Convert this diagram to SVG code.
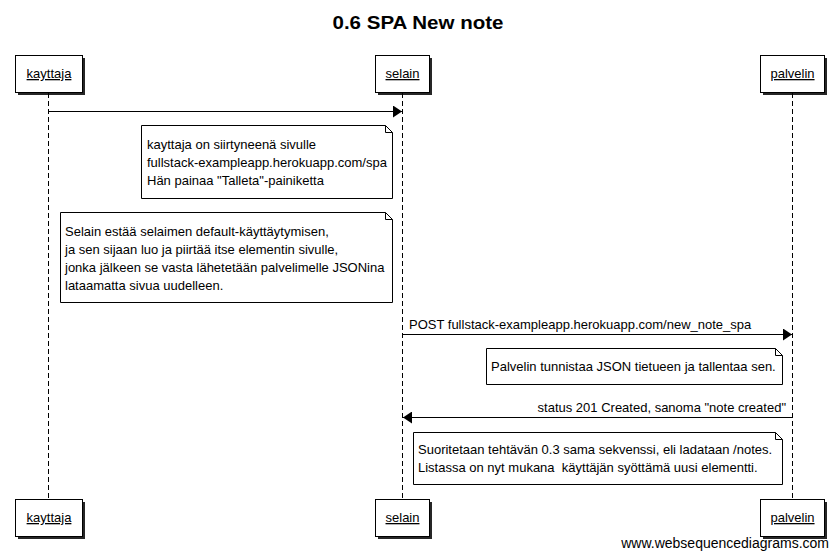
<svg xmlns="http://www.w3.org/2000/svg" width="838" height="560" viewBox="0 0 838 560">
<defs>
<style>
text{font-family:"Liberation Sans",Arial,sans-serif;font-size:13px;fill:#000}
.title{font-size:18px;font-weight:bold}
.plabel{text-decoration:underline}
.box{fill:#fff;stroke:#000;stroke-width:1}
.shadow{fill:#000;opacity:0.85}
.life{stroke:#000;stroke-width:1;stroke-dasharray:5,3;fill:none}
.msg{stroke:#000;stroke-width:1;fill:none}
.note{fill:#fff;stroke:#000;stroke-width:1}
.fold{fill:none;stroke:#000;stroke-width:1}
.foot{font-size:14px}
</style>
<marker id="ah" markerWidth="10" markerHeight="12" refX="9" refY="6" orient="auto" markerUnits="userSpaceOnUse">
<path d="M0,0 L9,6 L0,12 Z" fill="#000"/>
</marker>
</defs>
<rect width="838" height="560" fill="#fff"/>
<text class="title" x="418" y="29" text-anchor="middle" textLength="171" lengthAdjust="spacingAndGlyphs">0.6 SPA New note</text>

<g id="lifelines">
<line class="life" x1="48.5" y1="93" x2="48.5" y2="499"/>
<line class="life" x1="402.5" y1="93" x2="402.5" y2="499"/>
<line class="life" x1="792.5" y1="93" x2="792.5" y2="499"/>
</g>

<g id="kayttaja">
<rect class="shadow" x="18" y="58" width="67" height="37"/>
<rect class="box" x="15.5" y="55.5" width="67" height="37"/>
<text class="plabel" x="49" y="78" text-anchor="middle">kayttaja</text>
<rect class="shadow" x="18" y="502" width="67" height="37"/>
<rect class="box" x="15.5" y="499.5" width="67" height="37"/>
<text class="plabel" x="49" y="522" text-anchor="middle">kayttaja</text>
</g>

<g id="selain">
<rect class="shadow" x="378" y="58" width="54" height="37"/>
<rect class="box" x="375.5" y="55.5" width="54" height="37"/>
<text class="plabel" x="402.5" y="78" text-anchor="middle">selain</text>
<rect class="shadow" x="378" y="502" width="54" height="37"/>
<rect class="box" x="375.5" y="499.5" width="54" height="37"/>
<text class="plabel" x="402.5" y="522" text-anchor="middle">selain</text>
</g>

<g id="palvelin">
<rect class="shadow" x="763" y="58" width="64" height="37"/>
<rect class="box" x="760.5" y="55.5" width="64" height="37"/>
<text class="plabel" x="792.5" y="78" text-anchor="middle">palvelin</text>
<rect class="shadow" x="763" y="502" width="64" height="37"/>
<rect class="box" x="760.5" y="499.5" width="64" height="37"/>
<text class="plabel" x="792.5" y="522" text-anchor="middle">palvelin</text>
</g>

<g id="connectors">
<line class="msg" x1="48.5" y1="111.5" x2="402" y2="111.5" marker-end="url(#ah)"/>
<line class="msg" x1="402.5" y1="334.5" x2="792" y2="334.5" marker-end="url(#ah)"/>
<text x="409" y="329">POST fullstack-exampleapp.herokuapp.com/new_note_spa</text>
<line class="msg" x1="792.5" y1="417.5" x2="403" y2="417.5" marker-end="url(#ah)"/>
<text x="786" y="412" text-anchor="end">status 201 Created, sanoma "note created"</text>
</g>

<g id="note1">
<path class="note" d="M141.5,125.5 H385.5 L392.5,132.5 V198.5 H141.5 Z"/>
<path class="fold" d="M385.5,125.5 V132.5 H392.5"/>
<text x="147" y="148.5">kayttaja on siirtyneenä sivulle</text>
<text x="147" y="166.5">fullstack-exampleapp.herokuapp.com/spa</text>
<text x="147" y="184.5">Hän painaa "Talleta"-painiketta</text>
</g>

<g id="note2">
<path class="note" d="M60.5,212.5 H385.5 L392.5,219.5 V302.5 H60.5 Z"/>
<path class="fold" d="M385.5,212.5 V219.5 H392.5"/>
<text x="65" y="235.5">Selain estää selaimen default-käyttäytymisen,</text>
<text x="65" y="253.5">ja sen sijaan luo ja piirtää itse elementin sivulle,</text>
<text x="65" y="271.5">jonka jälkeen se vasta lähetetään palvelimelle JSONina</text>
<text x="65" y="289.5">lataamatta sivua uudelleen.</text>
</g>

<g id="note3">
<path class="note" d="M486.5,348.5 H775.5 L782.5,355.5 V384.5 H486.5 Z"/>
<path class="fold" d="M775.5,348.5 V355.5 H782.5"/>
<text x="491" y="371">Palvelin tunnistaa JSON tietueen ja tallentaa sen.</text>
</g>

<g id="note4">
<path class="note" d="M413.5,432.5 H775.5 L782.5,439.5 V484.5 H413.5 Z"/>
<path class="fold" d="M775.5,432.5 V439.5 H782.5"/>
<text x="418" y="454">Suoritetaan tehtävän 0.3 sama sekvenssi, eli ladataan /notes.</text>
<text x="418" y="472" xml:space="preserve">Listassa on nyt mukana  käyttäjän syöttämä uusi elementti.</text>
</g>

<text class="foot" x="829" y="548" text-anchor="end">www.websequencediagrams.com</text>
</svg>
